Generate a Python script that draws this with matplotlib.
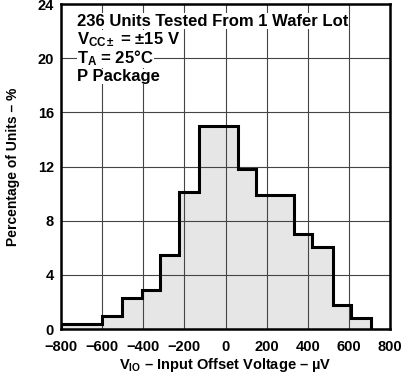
import numpy as np
import matplotlib
matplotlib.use("Agg")
import matplotlib.pyplot as plt

# bin edges (µV) and percentage of units
edges = [-800, -601, -504, -406, -320, -224, -127, 60, 150, 333, 420, 523, 611, 706]
percent = [0.4, 1.0, 2.3, 2.9, 5.5, 10.1, 15.0, 11.8, 9.9, 7.0, 6.1, 1.8, 0.8]

x_ticks = [-800, -600, -400, -200, 0, 200, 400, 600, 800]
y_ticks = [0, 4, 8, 12, 16, 20, 24]

notes = [
    "236 Units Tested From 1 Wafer Lot",
    r"$V_{CC\pm}$ = ±15 V",
    r"$T_A$ = 25°C",
    "P Package",
]

plt.rcParams["font.family"] = ["Liberation Sans", "DejaVu Sans"]
plt.rcParams["font.weight"] = "bold"
plt.rcParams["mathtext.fontset"] = "custom"
plt.rcParams["mathtext.rm"] = "Liberation Sans:bold"
plt.rcParams["mathtext.it"] = "Liberation Sans:bold"
plt.rcParams["mathtext.bf"] = "Liberation Sans:bold"

fig = plt.figure(figsize=(4.01, 3.74), dpi=100)
ax = fig.add_axes([0.152, 0.120, 0.821, 0.869])

# histogram: gray fill plus black step outline
ax.stairs(percent, edges, fill=True, color="#e6e6e6", zorder=1)
ax.stairs(percent, edges, fill=False, baseline=0, color="black", lw=2.2, zorder=3)

ax.set_xlim(-800, 800)
ax.set_ylim(0, 24)
ax.set_xticks(x_ticks)
ax.set_yticks(y_ticks)
ax.tick_params(length=0, labelsize=10.5)
ax.tick_params(axis="x", pad=8)
ax.tick_params(axis="y", pad=5)
for lab in ax.get_xticklabels() + ax.get_yticklabels():
    lab.set_fontweight("bold")

ax.grid(True, color="#444444", lw=0.8, zorder=2)
ax.set_axisbelow(False)
for s in ax.spines.values():
    s.set_linewidth(1.8)
    s.set_zorder(4)

ax.set_xlabel(r"$V_{IO}$ – Input Offset Voltage – µV", fontsize=10.5, fontweight="bold", labelpad=1)
ax.set_ylabel("Percentage of Units – %", fontsize=10, fontweight="bold", labelpad=13)

# annotation lines, each with its own white box hiding the grid
y0 = 0.948
for i, t in enumerate(notes):
    ax.text(0.05, y0 - i * 0.057, t, transform=ax.transAxes, fontsize=12,
            fontweight="bold", va="center", ha="left", zorder=5,
            bbox=dict(facecolor="white", edgecolor="none", pad=0.2))

fig.savefig("out.png", dpi=100)
